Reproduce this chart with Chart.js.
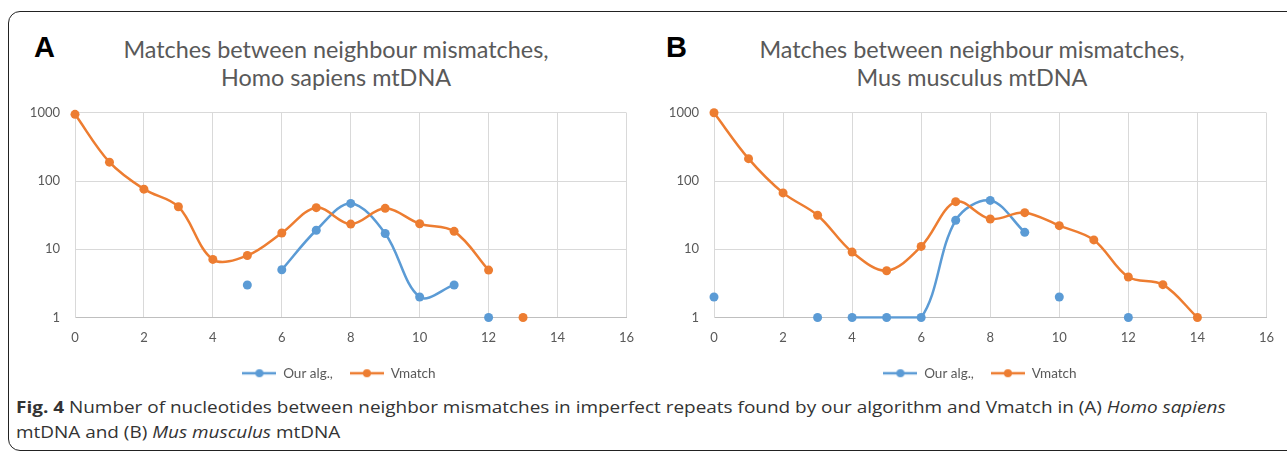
<!DOCTYPE html>
<html><head><meta charset="utf-8">
<script src="https://cdn.jsdelivr.net/npm/chart.js@4/dist/chart.umd.min.js"></script>
<style>
html,body{margin:0;padding:0;background:#fff;width:1287px;height:453px;overflow:hidden;}
.frame{position:absolute;left:8px;top:11px;width:1320px;height:440px;border:1.5px solid #222;border-radius:12px;box-sizing:border-box;}
.letter{position:absolute;font-family:'Liberation Sans',Arial,sans-serif;font-weight:bold;font-size:29px;line-height:29px;color:#000;}
.title{position:absolute;font-family:Lato,sans-serif;font-size:23.4px;color:#595959;text-align:center;line-height:28px;width:600px;white-space:nowrap;}
.caption{position:absolute;left:16px;top:395px;font-family:'Open Sans',sans-serif;font-size:16px;color:#333;line-height:25px;white-space:nowrap;transform:scaleX(1.184);transform-origin:0 0;}
.wrap{position:absolute;top:90px;height:305px;}
</style></head>
<body>
<div class="frame"></div>
<div class="letter" style="left:34px;top:33px;">A</div>
<div class="letter" style="left:666px;top:33px;">B</div>
<div class="title" style="left:36px;top:35px;">Matches between neighbour mismatches,<br>Homo sapiens mtDNA</div>
<div class="title" style="left:672px;top:35px;">Matches between neighbour mismatches,<br>Mus musculus mtDNA</div>
<div class="wrap" style="left:0;width:647px;"><canvas id="cA" width="647" height="305"></canvas></div>
<div class="wrap" style="left:640px;width:647px;"><canvas id="cB" width="647" height="305"></canvas></div>
<div class="caption"><b>Fig. 4</b> Number of nucleotides between neighbor mismatches in imperfect repeats found by our algorithm and Vmatch in (A) <i>Homo sapiens</i><br>mtDNA and (B) <i>Mus musculus</i> mtDNA</div>
<script>
// ---- data ----
const xTickLabels = [0, 2, 4, 6, 8, 10, 12, 14, 16];
const yTickLabels = [1, 10, 100, 1000];
const seriesNames = ['Our alg.,', 'Vmatch'];

const homoOurX = [5, 6, 7, 8, 9, 10, 11, 12];
const homoOurY = [3, 5, 19, 47, 17, 2, 3, 1];
const homoOurBreaks = [5, 11];           // no line drawn after these x values

const homoVmX = [0, 1, 2, 3, 4, 5, 6, 7, 8, 9, 10, 11, 12, 13];
const homoVmY = [950, 189, 76, 42, 7.1, 8.1, 17.3, 40.7, 23.4, 39.8, 23.7, 18.3, 4.95, 1];
const homoVmBreaks = [12];

const musOurX = [0, 3, 4, 5, 6, 7, 8, 9, 10, 12];
const musOurY = [2, 1, 1, 1, 1, 26.6, 52, 17.7, 2, 1];
const musOurBreaks = [0, 3, 9, 10];

const musVmX = [0, 1, 2, 3, 4, 5, 6, 7, 8, 9, 10, 11, 12, 13, 14];
const musVmY = [1000, 213, 67, 31.5, 9.1, 4.85, 11, 49.8, 27.8, 34.4, 22.2, 13.7, 3.92, 3.03, 1];
const musVmBreaks = [];

const BLUE = '#5B9BD5', ORANGE = '#ED7D31';

function markerImage(color) {
  const c = document.createElement('canvas');
  c.width = 34; c.height = 10;
  const g = c.getContext('2d');
  g.strokeStyle = color; g.lineWidth = 2.5;
  g.beginPath(); g.moveTo(0, 5); g.lineTo(34, 5); g.stroke();
  g.fillStyle = color; g.beginPath(); g.arc(17, 5, 4, 0, Math.PI * 2); g.fill();
  return c;
}

function seriesDatasets(xs, ys, breaks, color, order) {
  const sets = [];
  let run = [];
  xs.forEach((x, i) => {
    run.push({ x: x, y: ys[i] });
    if (breaks.includes(x) || i === xs.length - 1) {
      if (run.length > 1) {
        sets.push({ data: run, borderColor: color, backgroundColor: color, borderWidth: 2.5,
          pointRadius: 0, tension: 0.35, clip: 1.25, order: order });
      }
      run = [];
    }
  });
  sets.push({ data: xs.map((x, i) => ({ x: x, y: ys[i] })), showLine: false, pointRadius: 4.5,
    pointBorderWidth: 0, backgroundColor: color, borderColor: color, clip: false, order: order });
  return sets;
}

// centres the legend under a chosen x position (canvas pixels)
const legendShift = {
  id: 'legendShift',
  afterLayout(chart, args, opts) {
    const lg = chart.legend;
    if (!lg) return;
    const d = opts.center - (lg.left + lg.right) / 2;
    lg.left += d; lg.right += d;
  }
};

function makeChart(id, our, vm, yWidth, padRight, legendCenter) {
  const datasets = [].concat(
    seriesDatasets(vm[0], vm[1], vm[2], ORANGE, 0),
    seriesDatasets(our[0], our[1], our[2], BLUE, 1)
  );
  const lblFont = { family: 'Lato', size: 13 };
  return new Chart(document.getElementById(id), {
    type: 'line',
    data: { datasets: datasets },
    plugins: [legendShift],
    options: {
      responsive: false, animation: false, events: [],
      layout: { padding: { left: 0, right: padRight, top: 13, bottom: 5 } },
      plugins: {
        tooltip: { enabled: false },
        legendShift: { center: legendCenter },
        legend: {
          position: 'bottom',
          labels: {
            usePointStyle: true, pointStyleWidth: 34, padding: 17,
            color: '#595959', font: { family: 'Lato', size: 13.5 },
            generateLabels: () => [
              { text: seriesNames[0], pointStyle: markerImage(BLUE), fontColor: '#595959', lineWidth: 0, hidden: false },
              { text: seriesNames[1], pointStyle: markerImage(ORANGE), fontColor: '#595959', lineWidth: 0, hidden: false }
            ]
          }
        }
      },
      scales: {
        x: {
          type: 'linear', min: xTickLabels[0], max: xTickLabels[xTickLabels.length - 1],
          afterBuildTicks: s => { s.ticks = xTickLabels.map(v => ({ value: v })); },
          afterFit: s => { s.height = 32; },
          ticks: { color: '#595959', font: lblFont, padding: 13, maxRotation: 0, autoSkip: false },
          grid: { color: '#d9d9d9', drawTicks: false },
          border: { color: '#bfbfbf', width: 1 }
        },
        y: {
          type: 'logarithmic', min: yTickLabels[0], max: yTickLabels[yTickLabels.length - 1],
          afterBuildTicks: s => { s.ticks = yTickLabels.map(v => ({ value: v })); },
          afterFit: s => { s.width = yWidth; },
          ticks: { color: '#595959', font: lblFont, padding: 15, autoSkip: false, callback: v => String(v) },
          grid: { color: '#d9d9d9', drawTicks: false },
          border: { color: '#d9d9d9', width: 1 }
        }
      }
    }
  });
}

makeChart('cA', [homoOurX, homoOurY, homoOurBreaks], [homoVmX, homoVmY, homoVmBreaks], 75, 0, 339);
makeChart('cB', [musOurX, musOurY, musOurBreaks], [musVmX, musVmY, musVmBreaks], 74, 0, 340);
</script>
</body></html>
